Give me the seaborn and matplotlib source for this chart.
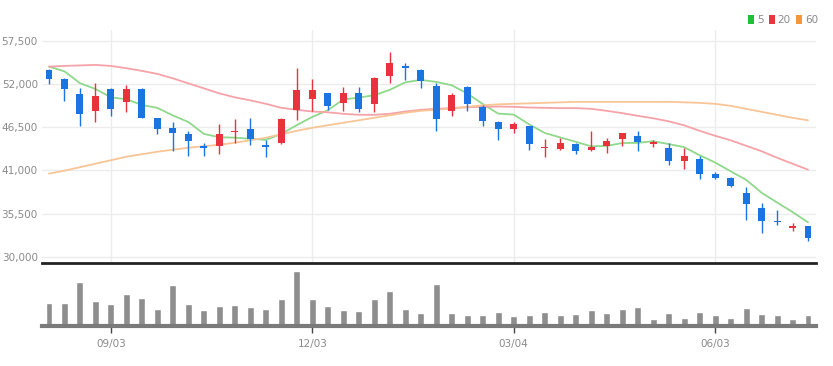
import matplotlib
matplotlib.use("Agg")
import matplotlib.pyplot as plt
from matplotlib.patches import Patch
import numpy as np
import pandas as pd
import seaborn as sns

# ---------------- data (weekly candles) ----------------
opens = [53780, 52640, 50730, 48570, 51370, 49750, 51370, 47650, 46410, 45650,
         44130, 44040, 45820, 46250, 44250, 44470, 48700, 50060, 50820, 49630,
         50820, 49460, 53020, 54290, 53780, 51750, 48570, 51580, 49120, 47210,
         46250, 46580, 43780, 43710, 44380, 43530, 44040, 44980, 45310, 44340,
         43840, 42220, 42440, 40570, 40030, 38120, 36220, 34600, 33710, 33880]
highs = [53900, 52700, 51460, 52090, 51500, 51870, 51450, 47700, 47140, 45940,
         44470, 46880, 47520, 47720, 44890, 47600, 54000, 52640, 50900, 51580,
         51580, 52930, 56030, 54630, 53870, 52090, 50820, 51750, 49330, 47300,
         47210, 46700, 44980, 45100, 44500, 46030, 45100, 45800, 45940, 44890,
         44470, 43840, 42770, 40740, 40100, 38830, 36850, 35910, 34310, 33950]
lows = [51990, 49840, 46580, 47140, 47940, 48360, 47600, 45650, 43490, 42860,
        42860, 43070, 44470, 44250, 42640, 44400, 47340, 48570, 48700, 48610,
        48360, 48480, 52090, 52510, 51460, 45940, 47850, 48570, 46670, 44890,
        45740, 43530, 42690, 43530, 43070, 43500, 43200, 44040, 43490, 43960,
        41710, 41170, 39900, 39900, 38830, 34730, 33040, 34090, 33240, 31970]
closes = [52640, 51330, 48150, 50510, 48830, 51370, 47720, 46290, 45690, 44670,
          43780, 45610, 46030, 44980, 43960, 47560, 51240, 51240, 49210, 50820,
          48790, 52730, 54630, 54000, 52380, 47520, 50600, 49420, 47300, 46250,
          46880, 44380, 43960, 44470, 43490, 43960, 44670, 45740, 44600, 44550,
          42130, 42770, 40570, 39970, 38960, 36720, 34510, 34390, 33880, 32400]
volumes = [69, 69, 132, 74, 67, 95, 84, 52, 122, 67,
           47, 59, 63, 57, 52, 82, 164, 82, 59, 49,
           44, 82, 104, 52, 39, 124, 39, 32, 34, 42,
           29, 32, 42, 32, 37, 49, 39, 52, 57, 22,
           39, 24, 42, 32, 24, 54, 37, 32, 22, 32]
ma5 = [54200, 53600, 52090, 51350, 50292, 50038, 49316, 48944, 47980, 47148,
       45630, 45208, 45156, 45014, 44872, 45628, 46754, 47796, 48642, 50014,
       50260, 50558, 51236, 52194, 52506, 52252, 51826, 50784, 49444, 48218,
       48090, 46846, 45754, 45188, 44636, 44052, 44110, 44466, 44492, 44704,
       44338, 43958, 42924, 41998, 40880, 39798, 38146, 36910, 35692, 34380]
ma20 = [54198, 54287, 54350, 54414, 54287, 53995, 53652, 53271, 52699, 52064,
        51429, 50794, 50286, 49905, 49461, 48953, 48699, 48483, 48382, 48191,
        48064, 48064, 48191, 48483, 48699, 48826, 48915, 49016, 49080, 49118,
        49080, 48991, 48953, 48915, 48915, 48826, 48572, 48280, 47937, 47620,
        47239, 46730, 46032, 45397, 44826, 44127, 43429, 42603, 41841, 41079]
ma60 = [40571, 40952, 41396, 41841, 42285, 42730, 43047, 43365, 43619, 43873,
        44063, 44254, 44508, 44825, 45143, 45587, 46032, 46413, 46730, 47048,
        47365, 47683, 48000, 48318, 48572, 48699, 48889, 49080, 49270, 49397,
        49461, 49524, 49588, 49651, 49715, 49715, 49715, 49715, 49715, 49715,
        49715, 49651, 49588, 49461, 49207, 48826, 48445, 48064, 47683, 47365]
tick_idx = [4, 17, 30, 43]
tick_labels = ["09/03", "12/03", "03/04", "06/03"]
price_ticks = [30000, 35500, 41000, 46500, 52000, 57500]
ma_names = ["5", "20", "60"]

# ---------------- style ----------------
sns.set_theme(style="white")
plt.rcParams['font.family'] = ['Liberation Sans Narrow', 'DejaVu Sans']

RED = "#e8323c"
BLUE = "#1a74e2"
MA_COLORS = ["#8fd88c", "#f5a3a8", "#f8c597"]
LEG_COLORS = ["#1fbf3a", "#ea3440", "#f6963a"]
TXT = "#8a8a8a"

W, H = 833, 366
fig = plt.figure(figsize=(W / 100, H / 100), dpi=100)
x0, x1 = 42, 816
axp = fig.add_axes([x0 / W, 1 - 263 / H, (x1 - x0) / W, (263 - 30) / H])
axv = fig.add_axes([x0 / W, 1 - 326 / H, (x1 - x0) / W, (326 - 265) / H])

idx = np.arange(len(closes))
df = pd.DataFrame({"i": idx, "open": opens, "high": highs, "low": lows,
                   "close": closes, "vol": np.array(volumes) * 1000,
                   "ma5": ma5, "ma20": ma20, "ma60": ma60})

# moving averages
for col, c in zip(["ma5", "ma20", "ma60"], MA_COLORS):
    sns.lineplot(data=df, x="i", y=col, ax=axp, color=c, lw=1.3, zorder=1.5,
                 legend=False)

# candles
up = df["close"] >= df["open"]
cols = np.where(up, RED, BLUE)
axp.vlines(df["i"], df["low"], df["high"], colors=cols, lw=1.0, zorder=2)
body_lo = np.minimum(df["open"], df["close"])
body_h = np.maximum(np.abs(df["close"] - df["open"]), 180)
axp.bar(df["i"], body_h, bottom=body_lo, width=0.45, color=cols, zorder=3,
        linewidth=0)

xl = (-(49 - x0) / 15.49, 49 + (x1 - 808) / 15.49)
axp.set_xlim(*xl)
ylo = 30000 - (263 - 256.7) * 127
yhi = 57500 + (40.7 - 30) * 127
axp.set_ylim(ylo, yhi)
axp.set_yticks(price_ticks)
axp.set_yticklabels([f"{v:,}" for v in price_ticks], color=TXT, fontsize=7.5)
axp.set_xticks(tick_idx)
axp.set_xticklabels([])
axp.tick_params(axis="both", length=0, pad=3)
axp.grid(True, color="#ececec", lw=1)
axp.set_axisbelow(True)
for s in ["top", "right", "left"]:
    axp.spines[s].set_visible(False)
axp.spines["bottom"].set_color("#222222")
axp.spines["bottom"].set_linewidth(2)
axp.set_xlabel("")
axp.set_ylabel("")

# volume
sns.barplot(data=df, x="i", y="vol", ax=axv, native_scale=True,
            color="#8e8e8e", saturation=1, width=0.45, zorder=2)
axv.set_xlim(*xl)
axv.set_ylim(0, 182000)
axv.set_yticks([])
axv.set_xticks(tick_idx)
axv.set_xticklabels(tick_labels, color=TXT, fontsize=7.5)
axv.tick_params(axis="x", length=5, width=1, color="#444444", pad=4,
                direction="out", bottom=True)
for s in ["top", "right", "left"]:
    axv.spines[s].set_visible(False)
axv.spines["bottom"].set_color("#7a7a7a")
axv.spines["bottom"].set_linewidth(3)
axv.set_xlabel("")
axv.set_ylabel("")
axv.grid(False)

# legend
handles = [Patch(facecolor=c, edgecolor="none", label=n)
           for c, n in zip(LEG_COLORS, ma_names)]
leg = fig.legend(handles=handles, loc="upper right", ncol=3,
                 bbox_to_anchor=(818 / W, 1 - 15 / H), frameon=False,
                 fontsize=7.5, handlelength=0.6, handleheight=0.9,
                 handletextpad=0.25, columnspacing=0.5, borderpad=0,
                 borderaxespad=0)
for t in leg.get_texts():
    t.set_color(TXT)

fig.savefig("out.png", dpi=100, facecolor="white")
